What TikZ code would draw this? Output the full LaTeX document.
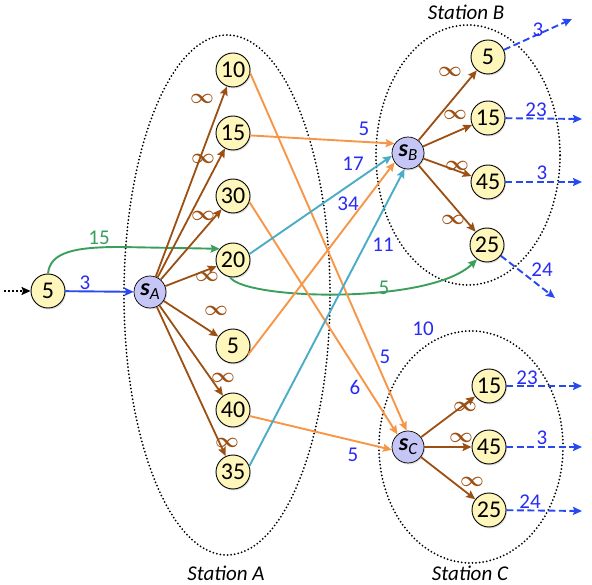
\documentclass[tikz,border=0pt]{standalone}
\usepackage{fontspec}
\setmainfont{Carlito}
\usetikzlibrary{arrows.meta,shadows}
\definecolor{nodeyellow}{HTML}{FFF6BC}
\definecolor{nodelav}{HTML}{C6C6F6}
\definecolor{brownc}{HTML}{9C4F12}
\definecolor{orangec}{HTML}{F79646}
\definecolor{tealc}{HTML}{4BACC6}
\definecolor{greenc}{HTML}{3A9E5C}
\definecolor{bluet}{HTML}{2A2AF5}
\definecolor{blued}{HTML}{2848F0}
\tikzset{
  numnode/.style={circle, draw=black, line width=0.9pt, fill=nodeyellow, minimum size=34pt, inner sep=0pt,
    font=\fontsize{24}{24}\selectfont, drop shadow={opacity=0.25, shadow xshift=1pt, shadow yshift=-1.5pt}},
  snode/.style={circle, draw=black, line width=0.7pt, fill=nodelav, minimum size=32pt, inner sep=0pt,
    drop shadow={opacity=0.25, shadow xshift=1pt, shadow yshift=-1.5pt}},
  tip/.style={-{Stealth[length=9pt,width=8pt,inset=1.5pt]}},
  inf/.style={tip, draw=brownc, line width=1.8pt},
  orng/.style={tip, draw=orangec, line width=1.9pt},
  teal/.style={tip, draw=tealc, line width=1.9pt},
  grn/.style={tip, draw=greenc, line width=1.9pt},
  dsh/.style={tip, draw=blued, line width=1.9pt, dash pattern=on 7pt off 3.5pt},
  lbl/.style={text=bluet, font=\fontsize{21}{21}\selectfont, inner sep=0pt},
  glbl/.style={text=greenc, font=\fontsize{21}{21}\selectfont, inner sep=0pt},
  inflbl/.style={text=brownc, font=\fontsize{20}{20}\selectfont\boldmath, inner sep=0pt},
  station/.style={draw=black, line width=2pt, dash pattern=on 0pt off 3.6pt, line cap=round},
  stlbl/.style={font=\fontsize{21}{21}\selectfont\itshape, inner sep=0pt},
}
\newcommand{\sname}[1]{{\fontsize{24}{24}\selectfont\bfseries\itshape s}\raisebox{-4pt}{\fontsize{17}{17}\selectfont\itshape #1}}
\begin{document}
\begin{tikzpicture}[x=1pt,y=-1pt]
\useasboundingbox (0,0) rectangle (592,585);

% stations
\draw[station] (227,295) ellipse [x radius=103pt, y radius=260pt];
\draw[station] (468,155) ellipse [x radius=92pt, y radius=130pt];
\draw[station] (471,447) ellipse [x radius=92pt, y radius=116pt];
\node[stlbl] (stA) at (226,573) {Station A};
\node[stlbl] (stB) at (466,12) {Station B};
\node[stlbl] (stC) at (470,573) {Station C};

% nodes
\node[numnode] (src) at (48,291) {5};
\node[snode] (sA) at (150,292) {\sname{A}};
\node[numnode] (a10) at (233,70) {10};
\node[numnode] (a15) at (233,133) {15};
\node[numnode] (a30) at (233,196) {30};
\node[numnode] (a20) at (233,260) {20};
\node[numnode] (a5) at (233,346) {5};
\node[numnode] (a40) at (233,410) {40};
\node[numnode] (a35) at (233,472) {35};
\node[snode] (sB) at (408,153) {\sname{B}};
\node[numnode] (b5) at (488,57) {5};
\node[numnode] (b15) at (488,118) {15};
\node[numnode] (b45) at (488,182) {45};
\node[numnode] (b25) at (487,245) {25};
\node[snode] (sC) at (408,447) {\sname{C}};
\node[numnode] (c15) at (489,386) {15};
\node[numnode] (c45) at (489,447) {45};
\node[numnode] (c25) at (489,510) {25};

% free ends
\coordinate (in0) at (4,291);
\coordinate (ob5) at (572,19);
\coordinate (ob15) at (582,119);
\coordinate (ob45) at (582,182);
\coordinate (ob25) at (555,298);
\coordinate (oc15) at (582,386);
\coordinate (oc45) at (582,447);
\coordinate (oc25) at (582,511);

% input
\draw[tip, line width=1.6pt, dash pattern=on 2pt off 2pt] (in0) -- (src);
\draw[tip, draw=blued, line width=1.9pt] (src) -- (sA);
\node[lbl] (l3) at (85,283) {3};

% green
\draw[grn] (src.north) .. controls (50,252) and (75,247) .. (120,247) -- (a20.140);
\node[glbl] (l15g) at (99,238) {15};
\draw[grn] (a20.-100) .. controls (245,300) and (430,305) .. (b25.-125);
\node[glbl] (l5g) at (384,288) {5};

% brown from sA
\draw[inf] (sA) -- (a10);
\draw[inf] (sA) -- (a15);
\draw[inf] (sA) -- (a30);
\draw[inf] (sA) -- (a20);
\draw[inf] (sA) -- (a5);
\draw[inf] (sA) -- (a40);
\draw[inf] (sA) -- (a35);
\node[inflbl] (i1) at (202,99) {$\infty$};
\node[inflbl] (i2) at (203,159) {$\infty$};
\node[inflbl] (i3) at (203,216) {$\infty$};
\node[inflbl] (i4) at (207,277) {$\infty$};
\node[inflbl] (i5) at (216,311) {$\infty$};
\node[inflbl] (i6) at (223,378) {$\infty$};
\node[inflbl] (i7) at (227,443) {$\infty$};

% middle connections
\draw[orng] (a10.-10) -- (sC.95);
\draw[orng] (a30.-20) -- (sC.130);
\draw[orng] (a40.-20) -- (sC.190);
\draw[orng] (a15.-8) -- (sB.145);
\draw[orng] (a5.-30) -- (sB.215);
\draw[teal] (a20.20) -- (sB.190);
\draw[teal] (a35.20) -- (sB.258);
\node[lbl] (m5a) at (364,129) {5};
\node[lbl] (m17) at (353,164) {17};
\node[lbl] (m34) at (348,204) {34};
\node[lbl] (m11) at (383,245) {11};
\node[lbl] (m5b) at (385,357) {5};
\node[lbl] (m6) at (355,387) {6};
\node[lbl] (m5c) at (353,455) {5};
\node[lbl] (m10) at (423,329) {10};

% station B
\draw[inf] (sB) -- (b5);
\draw[inf] (sB) -- (b15);
\draw[inf] (sB) -- (b45);
\draw[inf] (sB) -- (b25);
\node[inflbl] (j1) at (450,72) {$\infty$};
\node[inflbl] (j2) at (455,115) {$\infty$};
\node[inflbl] (j3) at (457,166) {$\infty$};
\node[inflbl] (j4) at (453,220) {$\infty$};
\draw[dsh] (b5) -- (ob5);
\draw[dsh] (b15) -- (ob15);
\draw[dsh] (b45) -- (ob45);
\draw[dsh] (b25) -- (ob25);
\node[lbl] (o1) at (538,30) {3};
\node[lbl] (o2) at (536,110) {23};
\node[lbl] (o3) at (542,173) {3};
\node[lbl] (o4) at (542,270) {24};

% station C
\draw[inf] (sC) -- (c15);
\draw[inf] (sC) -- (c45);
\draw[inf] (sC) -- (c25);
\node[inflbl] (k1) at (465,407) {$\infty$};
\node[inflbl] (k2) at (461,438) {$\infty$};
\node[inflbl] (k3) at (472,482) {$\infty$};
\draw[dsh] (c15) -- (oc15);
\draw[dsh] (c45) -- (oc45);
\draw[dsh] (c25) -- (oc25);
\node[lbl] (p1) at (527,378) {23};
\node[lbl] (p2) at (542,438) {3};
\node[lbl] (p3) at (530,502) {24};
\end{tikzpicture}
\end{document}
